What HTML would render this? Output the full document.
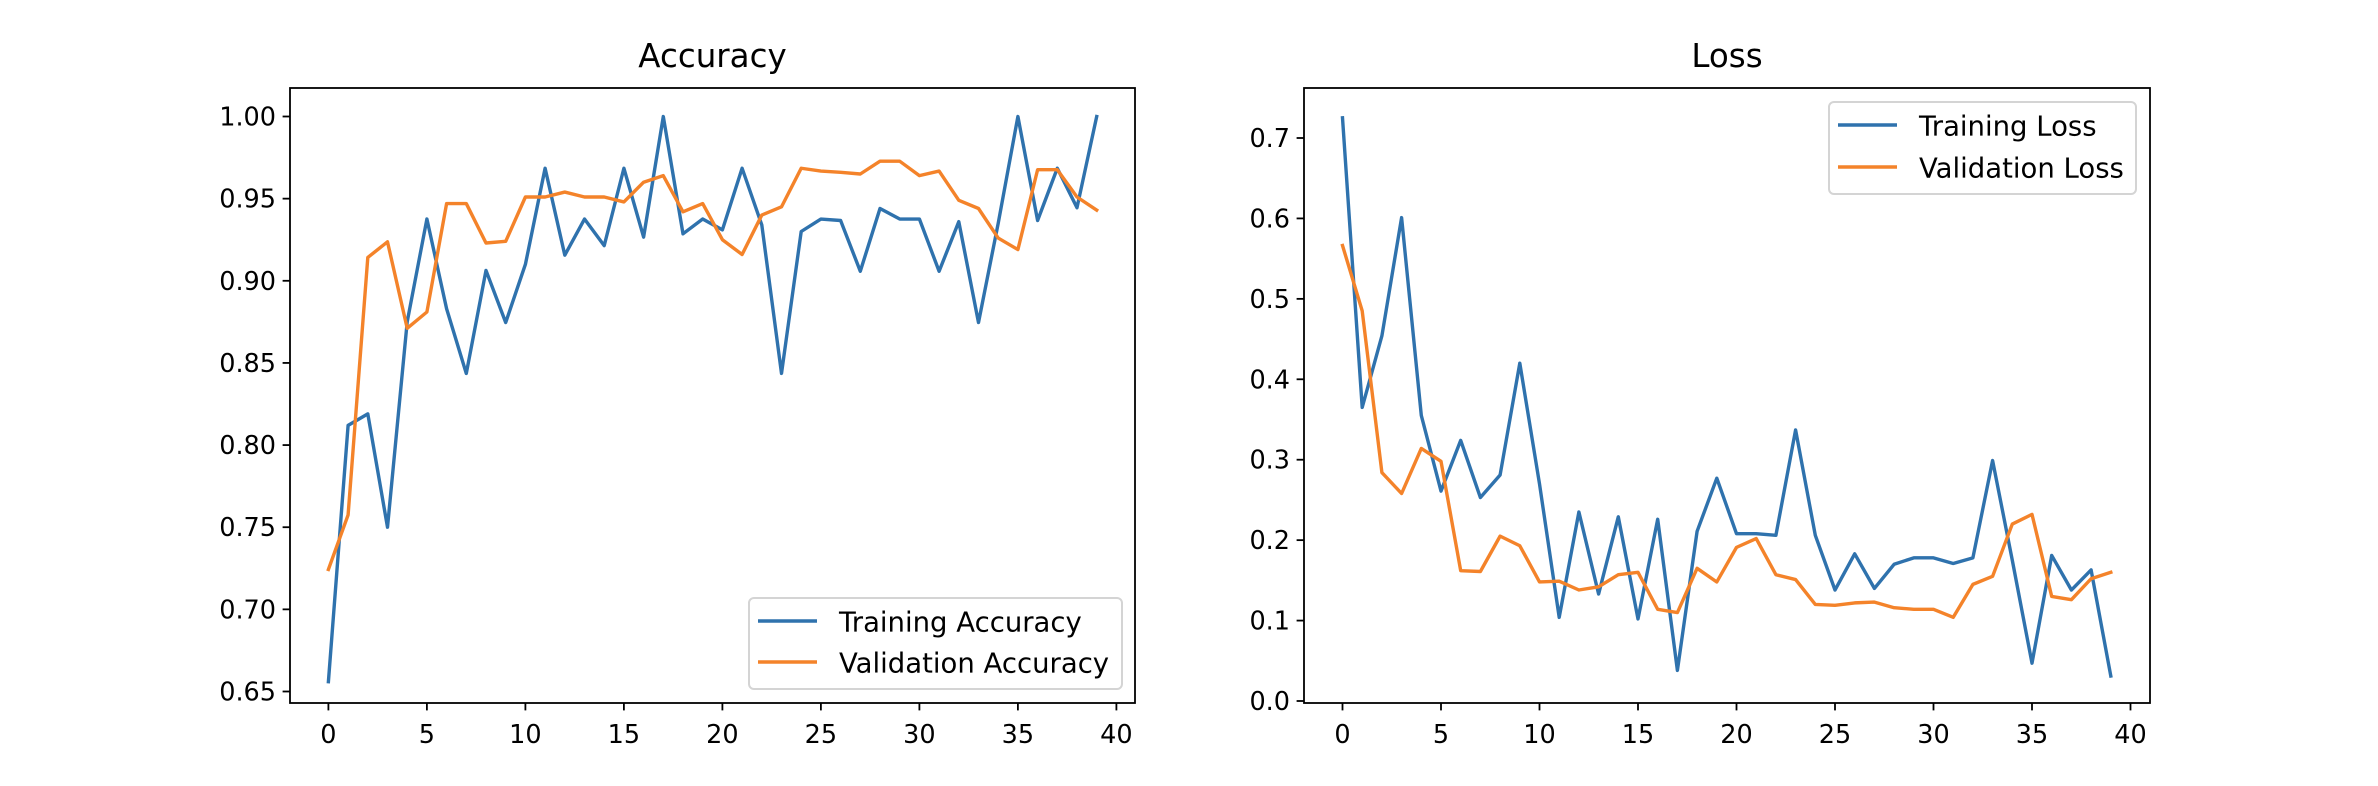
<!DOCTYPE html>
<html><head><meta charset="utf-8"><style>
html,body{margin:0;padding:0;background:#fff;}
svg{display:block;font-family:"DejaVu Sans","Liberation Sans",sans-serif;}
</style></head><body>
<svg id="fig" width="2378" height="786" viewBox="0 0 2378 786" xmlns="http://www.w3.org/2000/svg">
<rect width="2378" height="786" fill="#fff"/>
</svg>
<script>
const epochs = Array.from({length:40},(_, i)=>i);
const trainAcc = [0.656,0.812,0.819,0.75,0.875,0.9376,0.883,0.8436,0.9063,0.8746,0.91,0.9685,0.9156,0.9376,0.9214,0.9685,0.9266,1.0,0.9286,0.9376,0.931,0.9685,0.934,0.8436,0.93,0.9376,0.9367,0.9058,0.944,0.9376,0.9376,0.9058,0.936,0.8746,0.935,1.0,0.9367,0.9685,0.9445,1.0];
const valAcc = [0.7243,0.7575,0.9142,0.9237,0.8711,0.881,0.947,0.947,0.923,0.924,0.951,0.951,0.954,0.951,0.951,0.948,0.96,0.964,0.942,0.947,0.925,0.916,0.94,0.945,0.9685,0.9668,0.966,0.965,0.9728,0.9728,0.964,0.9668,0.949,0.944,0.926,0.919,0.9676,0.9676,0.951,0.943];
const trainLoss = [0.7251,0.365,0.454,0.601,0.355,0.261,0.324,0.253,0.281,0.42,0.27,0.104,0.235,0.133,0.229,0.102,0.226,0.038,0.211,0.277,0.208,0.208,0.206,0.337,0.206,0.138,0.183,0.14,0.17,0.178,0.178,0.171,0.178,0.299,0.175,0.047,0.181,0.138,0.163,0.031];
const valLoss = [0.5664,0.485,0.284,0.258,0.314,0.298,0.162,0.161,0.205,0.193,0.148,0.149,0.138,0.142,0.157,0.16,0.114,0.11,0.165,0.148,0.191,0.202,0.157,0.151,0.12,0.119,0.122,0.123,0.116,0.114,0.114,0.104,0.145,0.155,0.22,0.232,0.13,0.126,0.152,0.16];
const xTicks = [0,5,10,15,20,25,30,35,40];
const accTicks = [0.65,0.70,0.75,0.80,0.85,0.90,0.95,1.00];
const lossTicks = [0.0,0.1,0.2,0.3,0.4,0.5,0.6,0.7];

const NS="http://www.w3.org/2000/svg";
const svg=document.getElementById('fig');
function mk(tag,attrs,parent){const e=document.createElementNS(NS,tag);for(const k in attrs)e.setAttribute(k,attrs[k]);(parent||svg).appendChild(e);return e;}
const BLUE="#2f72ad", ORANGE="#f4832a";
const FS=25.5, LFS=27.5, TFS=32.5;

function panel(cfg){
  const g=mk('g',{});
  
  
  const L=cfg.left,R=cfg.right,T=88,B=703;
  const xs=v=>cfg.x0+v*19.7;
  const ys=v=>cfg.yA+(v-cfg.vA)*(cfg.yB-cfg.yA)/(cfg.vB-cfg.vA);
  const t=mk('text',{x:(L+R)/2,y:67,'text-anchor':'middle','font-size':TFS,fill:'#000'},g);
  t.textContent=cfg.title;
  
  
  function series(vals,color,nm){
    const p=mk('polyline',{points:vals.map((v,i)=>xs(epochs[i])+','+ys(v)).join(' '),fill:'none',stroke:color,'stroke-width':3.4,'stroke-linejoin':'round','stroke-linecap':'square'},g);
    
    
  }
  series(cfg.s1,BLUE,cfg.s1name);
  series(cfg.s2,ORANGE,cfg.s2name);
  const f=mk('rect',{x:L,y:T,width:R-L,height:B-T,fill:'none',stroke:'#000','stroke-width':1.8},g);
  
  
  xTicks.forEach(v=>{
    const x=xs(v);
    mk('line',{x1:x,y1:B,x2:x,y2:B+7.4,stroke:'#000','stroke-width':1.8},g);
    const tx=mk('text',{x:x,y:743,'text-anchor':'middle','font-size':FS,fill:'#000'},g);
    tx.textContent=String(v);
    
    
  });
  cfg.ticks.forEach(v=>{
    const y=ys(v);
    mk('line',{x1:L-7.4,y1:y,x2:L,y2:y,stroke:'#000','stroke-width':1.8},g);
    const ty=mk('text',{x:L-14,y:y+9,'text-anchor':'end','font-size':FS,fill:'#000'},g);
    ty.textContent=v.toFixed(cfg.dec);
    
    
  });
  const lg=cfg.legend;
  const lgG=mk('g',{},g);
  
  
  mk('rect',{x:lg.x,y:lg.y,width:lg.w,height:lg.h,rx:5,fill:'#fff','fill-opacity':0.8,stroke:'#d4d4d4','stroke-width':2},lgG);
  [[cfg.s1label,BLUE,lg.r1],[cfg.s2label,ORANGE,lg.r2]].forEach(([lab,c,ry])=>{
    mk('line',{x1:lg.lx,y1:ry,x2:lg.lx+59,y2:ry,stroke:c,'stroke-width':3.4},lgG);
    const tt=mk('text',{x:lg.tx,y:ry+10.5,'font-size':LFS,fill:'#000'},lgG);
    tt.textContent=lab;
    
    
  });
}

panel({name:'accuracy-chart',title:'Accuracy',left:290,right:1135,x0:328.4,
  yA:691.5,vA:0.65,yB:116.5,vB:1.00,ticks:accTicks,dec:2,
  s1:trainAcc,s2:valAcc,s1name:'training-accuracy-line',s2name:'validation-accuracy-line',
  s1label:'Training Accuracy',s2label:'Validation Accuracy',
  legend:{x:749,y:598,w:373,h:91,lx:758,tx:839,r1:621,r2:662}});
panel({name:'loss-chart',title:'Loss',left:1304,right:2150,x0:1342.5,
  yA:701,vA:0.0,yB:138,vB:0.7,ticks:lossTicks,dec:1,
  s1:trainLoss,s2:valLoss,s1name:'training-loss-line',s2name:'validation-loss-line',
  s1label:'Training Loss',s2label:'Validation Loss',
  legend:{x:1829,y:102,w:307,h:92,lx:1838,tx:1919,r1:125,r2:167}});
</script>
</body></html>
